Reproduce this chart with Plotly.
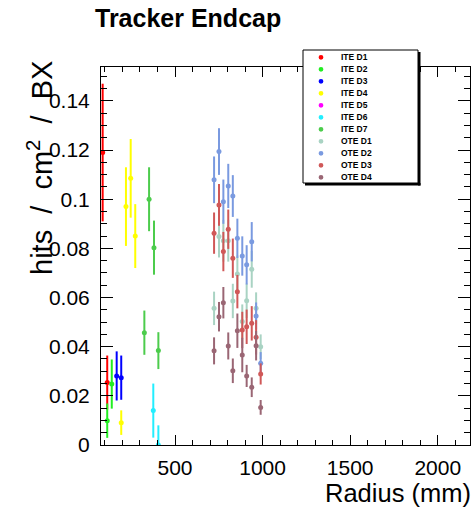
import plotly.graph_objects as go

# ---------------- data ----------------
series_names = ["ITE D1", "ITE D2", "ITE D3", "ITE D4", "ITE D5", "ITE D6", "ITE D7",
                "OTE D1", "OTE D2", "OTE D3", "OTE D4"]
series_colors = ["#ff0000", "#22ee22", "#0000ff", "#ffff00", "#ff00ff", "#22eeff", "#4ccc4c",
                 "#a9d3c3", "#7a9ae0", "#d05858", "#9a6674"]

ite_d1_r = [87, 113]
ite_d1_v = [0.119, 0.0254]
ite_d1_e = [0.028, 0.011]

ite_d2_r = [113, 139]
ite_d2_v = [0.0099, 0.0248]
ite_d2_e = [0.007, 0.010]

ite_d3_r = [167, 193]
ite_d3_v = [0.0281, 0.0274]
ite_d3_e = [0.010, 0.009]

ite_d4_r = [220, 247, 273, 193]
ite_d4_v = [0.097, 0.1085, 0.085, 0.0091]
ite_d4_e = [0.016, 0.016, 0.013, 0.005]

ite_d5_r = []
ite_d5_v = []
ite_d5_e = []

ite_d6_r = [376, 405]
ite_d6_v = [0.014, 0.0]
ite_d6_e = [0.011, 0.008]

ite_d7_r = [352, 380, 325, 405]
ite_d7_v = [0.100, 0.0803, 0.0457, 0.0384]
ite_d7_e = [0.013, 0.011, 0.009, 0.0075]

ote_r = [723, 751, 776, 804, 830, 856, 884, 909, 938, 963, 989]

ote_d1_v = [0.0556, 0.0848, 0.0831, 0.0831, 0.0586, 0.0696, 0.0502, 0.0587, 0.0715, 0.0556, 0.040]
ote_d1_e = [0.0068, 0.0085, 0.0085, 0.0085, 0.0070, 0.0075, 0.0070, 0.0070, 0.0075, 0.0065, 0.005]

ote_d2_v = [0.1079, 0.1194, 0.099, 0.1054, 0.1013, 0.0841, 0.0769, 0.0733, 0.0827, 0.0525, 0.0333]
ote_d2_e = [0.0095, 0.0095, 0.009, 0.009, 0.0085, 0.008, 0.008, 0.008, 0.008, 0.0055, 0.0045]

ote_d3_v = [0.0862, 0.0977, 0.0787, 0.0878, 0.076, 0.0624, 0.0468, 0.0481, 0.0495, 0.0438, 0.0289]
ote_d3_e = [0.0084, 0.0085, 0.008, 0.008, 0.008, 0.0068, 0.0074, 0.007, 0.007, 0.007, 0.0043]

ote_d4_v = [0.0383, 0.0522, 0.0579, 0.0403, 0.0302, 0.0465, 0.0366, 0.0281, 0.0235, 0.0404, 0.0153]
ote_d4_e = [0.0055, 0.006, 0.0064, 0.0055, 0.005, 0.007, 0.007, 0.0045, 0.004, 0.006, 0.003]

x_ticks = [500, 1000, 1500, 2000]
y_ticks = [0, 0.02, 0.04, 0.06, 0.08, 0.1, 0.12, 0.14]
y_ticktext = ["0", "0.02", "0.04", "0.06", "0.08", "0.1", "0.12", "0.14"]

all_series = [
    (ite_d1_r, ite_d1_v, ite_d1_e),
    (ite_d2_r, ite_d2_v, ite_d2_e),
    (ite_d3_r, ite_d3_v, ite_d3_e),
    (ite_d4_r, ite_d4_v, ite_d4_e),
    (ite_d5_r, ite_d5_v, ite_d5_e),
    (ite_d6_r, ite_d6_v, ite_d6_e),
    (ite_d7_r, ite_d7_v, ite_d7_e),
    (ote_r, ote_d1_v, ote_d1_e),
    (ote_r, ote_d2_v, ote_d2_e),
    (ote_r, ote_d3_v, ote_d3_e),
    (ote_r, ote_d4_v, ote_d4_e),
]

# ---------------- layout geometry ----------------
W, H = 472, 508
PL, PR, PT, PB = 101, 470, 67, 445
FONT = "Liberation Sans, Arial, Helvetica, sans-serif"


def fx(p):
    return (p - PL) / (PR - PL)


def fy(p):
    return (PB - p) / (PB - PT)


fig = go.Figure()
for name, col, (r, v, e) in zip(series_names, series_colors, all_series):
    if len(r) == 0:
        continue
    fig.add_trace(go.Scatter(
        x=r, y=v, name=name, mode="markers",
        marker=dict(color=col, size=5, line=dict(width=0)),
        error_y=dict(type="data", array=e, visible=True, color=col, thickness=2, width=0),
        showlegend=False,
    ))

shapes = []
annotations = []

# legend box (ROOT style with shadow)
LX0, LX1, LY0, LY1 = 303, 418, 50, 183
shapes.append(dict(type="rect", xref="paper", yref="paper", layer="above",
                   x0=fx(LX0 + 2), x1=fx(LX1 + 2.5), y0=fy(LY1 + 2.5), y1=fy(LY1),
                   fillcolor="black", line=dict(width=0)))
shapes.append(dict(type="rect", xref="paper", yref="paper", layer="above",
                   x0=fx(LX1), x1=fx(LX1 + 2.5), y0=fy(LY1 + 2.5), y1=fy(LY0 + 2),
                   fillcolor="black", line=dict(width=0)))
shapes.append(dict(type="rect", xref="paper", yref="paper", layer="above",
                   x0=fx(LX0), x1=fx(LX1), y0=fy(LY1), y1=fy(LY0),
                   fillcolor="white", line=dict(color="black", width=1)))
for i, (name, col) in enumerate(zip(series_names, series_colors)):
    cy = 57.3 + 12 * i
    cx = 321
    rr = 2.4
    shapes.append(dict(type="circle", xref="paper", yref="paper", layer="above",
                       x0=fx(cx - rr), x1=fx(cx + rr), y0=fy(cy + rr), y1=fy(cy - rr),
                       fillcolor=col, line=dict(width=0)))
    annotations.append(dict(text="<b>%s</b>" % name, xref="paper", yref="paper",
                            x=fx(339), y=fy(cy), xanchor="left", yanchor="middle",
                            showarrow=False, font=dict(family=FONT, size=8.5, color="black")))

# title
annotations.append(dict(text="<b>Tracker Endcap</b>", xref="paper", yref="paper",
                        x=fx(93), y=fy(18), xanchor="left", yanchor="middle",
                        showarrow=False, font=dict(family=FONT, size=25, color="black")))
# y title
annotations.append(dict(text="hits \u00a0/\u00a0 cm<sup>2</sup> \u00a0/\u00a0 BX", xref="paper", yref="paper",
                        x=fx(40), y=fy(59), xanchor="center", yanchor="top", textangle=-90,
                        showarrow=False, font=dict(family=FONT, size=29, color="black")))
# x title
annotations.append(dict(text="Radius (mm)", xref="paper", yref="paper",
                        x=fx(473), y=fy(493), xanchor="right", yanchor="middle",
                        showarrow=False, font=dict(family=FONT, size=25.5, color="black")))

fig.update_layout(
    width=W, height=H,
    margin=dict(l=PL, r=W - PR, t=PT, b=H - PB, pad=0),
    paper_bgcolor="white", plot_bgcolor="white",
    showlegend=False,
    shapes=shapes, annotations=annotations,
    font=dict(family=FONT, color="black"),
    xaxis=dict(range=[77.5, 2184], tickmode="array", tickvals=x_ticks,
               ticks="inside", ticklen=10, tickwidth=1, tickcolor="black",
               showline=True, linecolor="black", linewidth=1, mirror="ticks",
               showgrid=False, zeroline=False, ticklabelstandoff=4,
               tickfont=dict(family=FONT, size=21, color="black"),
               minor=dict(tickmode="linear", tick0=0, dtick=100, ticks="inside", ticklen=5,
                          tickcolor="black", tickwidth=1, showgrid=False)),
    yaxis=dict(range=[0, 0.1538], tickmode="array", tickvals=y_ticks, ticktext=y_ticktext,
               ticks="inside", ticklen=12, tickwidth=1, tickcolor="black",
               showline=True, linecolor="black", linewidth=1, mirror="ticks",
               showgrid=False, zeroline=False, ticklabelstandoff=6,
               tickfont=dict(family=FONT, size=21, color="black"),
               minor=dict(tickmode="linear", tick0=0, dtick=0.005, ticks="inside", ticklen=6,
                          tickcolor="black", tickwidth=1, showgrid=False)),
)

fig.write_html("out.html")
